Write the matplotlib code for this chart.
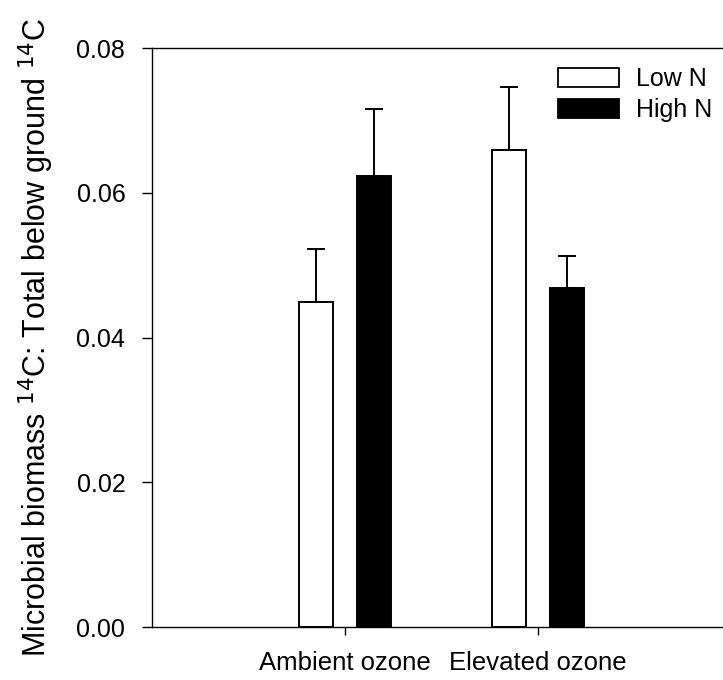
import numpy as np
import matplotlib.pyplot as plt
from matplotlib.patches import Patch

plt.rcParams['font.family'] = ['Liberation Sans', 'DejaVu Sans']

# data
groups = ["Ambient ozone", "Elevated ozone"]
series = ["Low N", "High N"]
low_n = [0.0449, 0.0659]
high_n = [0.0623, 0.0468]
low_n_err = [0.0073, 0.0087]
high_n_err = [0.0093, 0.0045]
y_ticks = [0.00, 0.02, 0.04, 0.06, 0.08]


def main():
    fig = plt.figure(figsize=(7.23, 6.8), dpi=100)
    ax = fig.add_axes([0.2102, 0.0779, 0.8008, 0.8515])

    x = np.arange(1, len(groups) + 1)
    width = 0.176
    off = 0.15

    ax.bar(x - off, low_n, width, color="white", edgecolor="black", linewidth=1.4, zorder=3)
    ax.bar(x + off, high_n, width, color="black", edgecolor="black", linewidth=1.4, zorder=3)
    ax.errorbar(x - off, low_n, yerr=[np.zeros(len(low_n)), low_n_err], fmt="none",
                ecolor="black", elinewidth=1.4, capsize=6.8, capthick=1.4, zorder=2)
    ax.errorbar(x + off, high_n, yerr=[np.zeros(len(high_n)), high_n_err], fmt="none",
                ecolor="black", elinewidth=1.4, capsize=6.8, capthick=1.4, zorder=2)

    ax.set_xlim(0, 3)
    ax.set_ylim(0, 0.08)
    ax.set_xticks(x)
    ax.set_xticklabels(groups, fontsize=18.5)
    ax.set_yticks(y_ticks)
    ax.set_yticklabels([f"{v:.2f}" for v in y_ticks], fontsize=18)
    ax.tick_params(axis="y", direction="out", length=7.2, width=1, pad=12)
    ax.tick_params(axis="x", direction="out", length=5.5, width=1, pad=12)
    for s in ["left", "bottom", "top"]:
        ax.spines[s].set_linewidth(1)
    ax.spines["right"].set_visible(False)

    ax.set_ylabel(r"Microbial biomass $^{14}$C: Total below ground $^{14}$C", fontsize=22, labelpad=15)

    handles = [Patch(facecolor="white", edgecolor="black", linewidth=1.3),
               Patch(facecolor="black", edgecolor="black", linewidth=1.3)]
    fig.legend(handles, series, loc="upper left", bbox_to_anchor=(558 / 723, 1 - 67 / 680),
               frameon=False, fontsize=18, handlelength=2.44, handleheight=0.8,
               handletextpad=0.7, labelspacing=0.3, borderaxespad=0, borderpad=0)

    fig.savefig("out.png", dpi=100)


if __name__ == "__main__":
    main()
